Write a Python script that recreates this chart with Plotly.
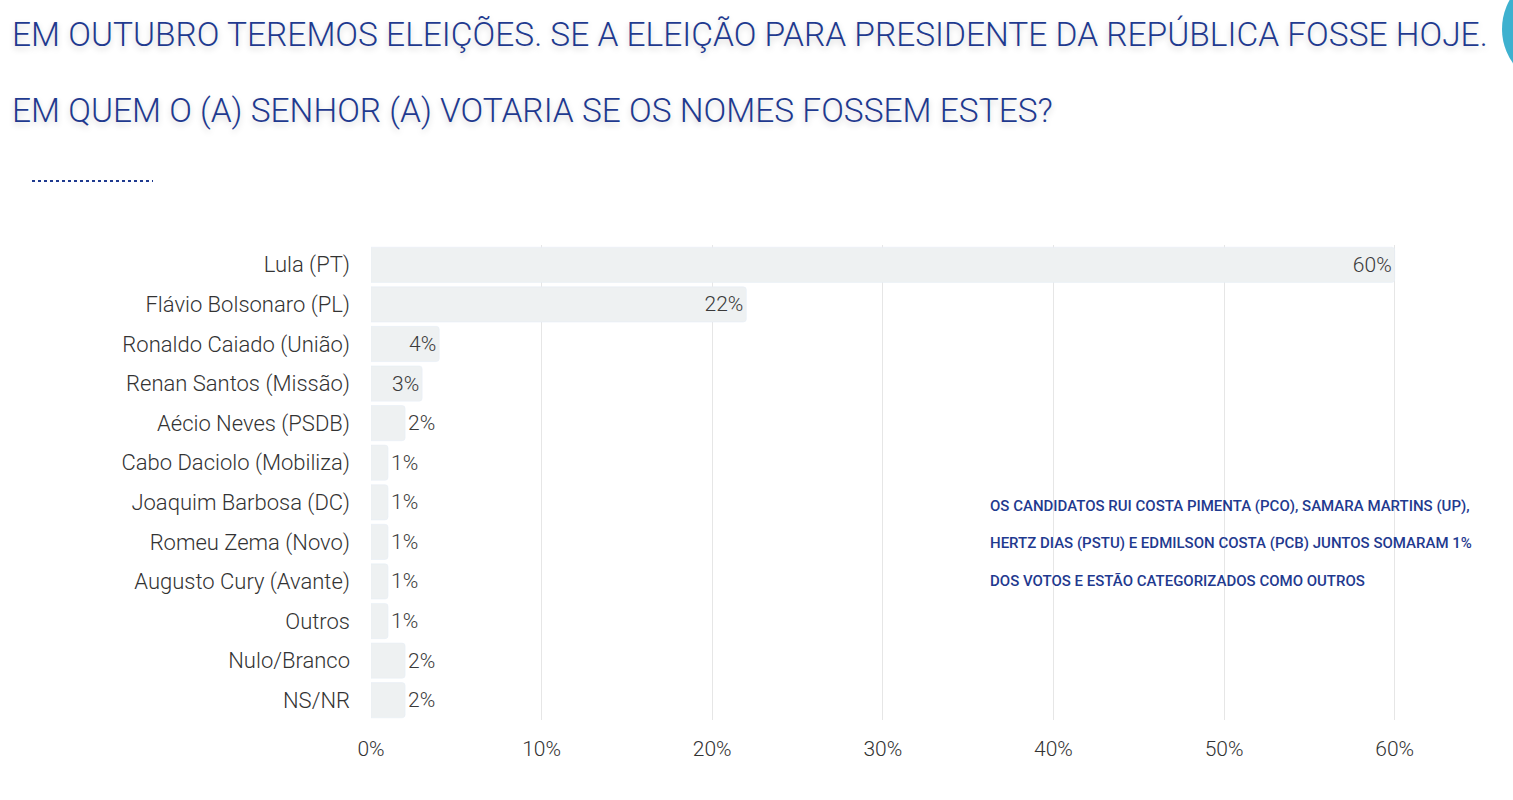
import plotly.graph_objects as go

categories = ["Lula (PT)", "Flávio Bolsonaro (PL)", "Ronaldo Caiado (União)", "Renan Santos (Missão)",
              "Aécio Neves (PSDB)", "Cabo Daciolo (Mobiliza)", "Joaquim Barbosa (DC)", "Romeu Zema (Novo)",
              "Augusto Cury (Avante)", "Outros", "Nulo/Branco", "NS/NR"]
values = [60, 22, 4, 3, 2, 1, 1, 1, 1, 1, 2, 2]
tick_vals = [0, 10, 20, 30, 40, 50, 60]
tick_text = ["0%", "10%", "20%", "30%", "40%", "50%", "60%"]
title_lines = ["EM OUTUBRO TEREMOS ELEIÇÕES. SE A ELEIÇÃO PARA PRESIDENTE DA REPÚBLICA FOSSE HOJE.",
               "EM QUEM O (A) SENHOR (A) VOTARIA SE OS NOMES FOSSEM ESTES?"]
note_lines = ["OS CANDIDATOS RUI COSTA PIMENTA (PCO), SAMARA MARTINS (UP),",
              "HERTZ DIAS (PSTU) E EDMILSON COSTA (PCB) JUNTOS SOMARAM 1%",
              "DOS VOTOS E ESTÃO CATEGORIZADOS COMO OUTROS"]

W, H = 1513, 800
L, R, T, B = 371, 33, 245, 80
PW, PH = W - L - R, H - T - B

def px(x):
    return (x - L) / PW

def py(y):
    return (H - B - y) / PH

FONT = "Roboto, Liberation Sans, sans-serif"
BLUE = "#1f3a8f"

positions = ["inside" if v >= 3 else "outside" for v in values]

fig = go.Figure(go.Bar(
    y=categories, x=values, orientation="h",
    marker=dict(color="#eef1f2", cornerradius=3),
    text=[f"{v}%" for v in values], textposition=positions,
    insidetextanchor="end", cliponaxis=False,
    textfont=dict(family=FONT, size=21, color="#3a3a3a", weight=300),
    hoverinfo="skip",
))

fig.update_layout(
    width=W, height=H, margin=dict(l=L, r=R, t=T, b=B),
    paper_bgcolor="white", plot_bgcolor="white",
    bargap=0.11, showlegend=False,
    xaxis=dict(range=[0, 65], tickvals=tick_vals, ticktext=tick_text, showgrid=True,
               gridcolor="#e6e6e6", gridwidth=1, zeroline=False, showline=False,
               tickfont=dict(family=FONT, size=21, color="#333333", weight=300), ticks="", ticklabelstandoff=14),
    yaxis=dict(autorange="reversed", showgrid=False, zeroline=False, showline=False, ticks="",
               tickfont=dict(family=FONT, size=22, color="#333333", weight=300), ticklabelstandoff=20),
)

for i, (line, ypix) in enumerate(zip(title_lines, [35, 110])):
    fig.add_annotation(text=line, xref="paper", yref="paper", x=px(10), y=py(ypix),
                       xanchor="left", yanchor="middle", showarrow=False,
                       font=dict(family=FONT, size=33.5, color=BLUE, weight=300,
                                 shadow="0px 3px 6px rgba(0,0,0,0.18)"))

for line, ypix in zip(note_lines, [506, 543, 581]):
    fig.add_annotation(text=line, xref="paper", yref="paper", x=px(988), y=py(ypix),
                       xanchor="left", yanchor="middle", showarrow=False,
                       font=dict(family=FONT, size=15, color=BLUE, weight=500))

fig.add_shape(type="line", xref="paper", yref="paper", x0=px(32), x1=px(153), y0=py(181), y1=py(181),
              line=dict(color=BLUE, width=2, dash="dot"))
fig.add_shape(type="circle", xref="paper", yref="paper", x0=px(1502), x1=px(1620), y0=py(-30), y1=py(88),
              fillcolor="#3eb1cf", line=dict(width=0))

fig.write_html("out.html")
